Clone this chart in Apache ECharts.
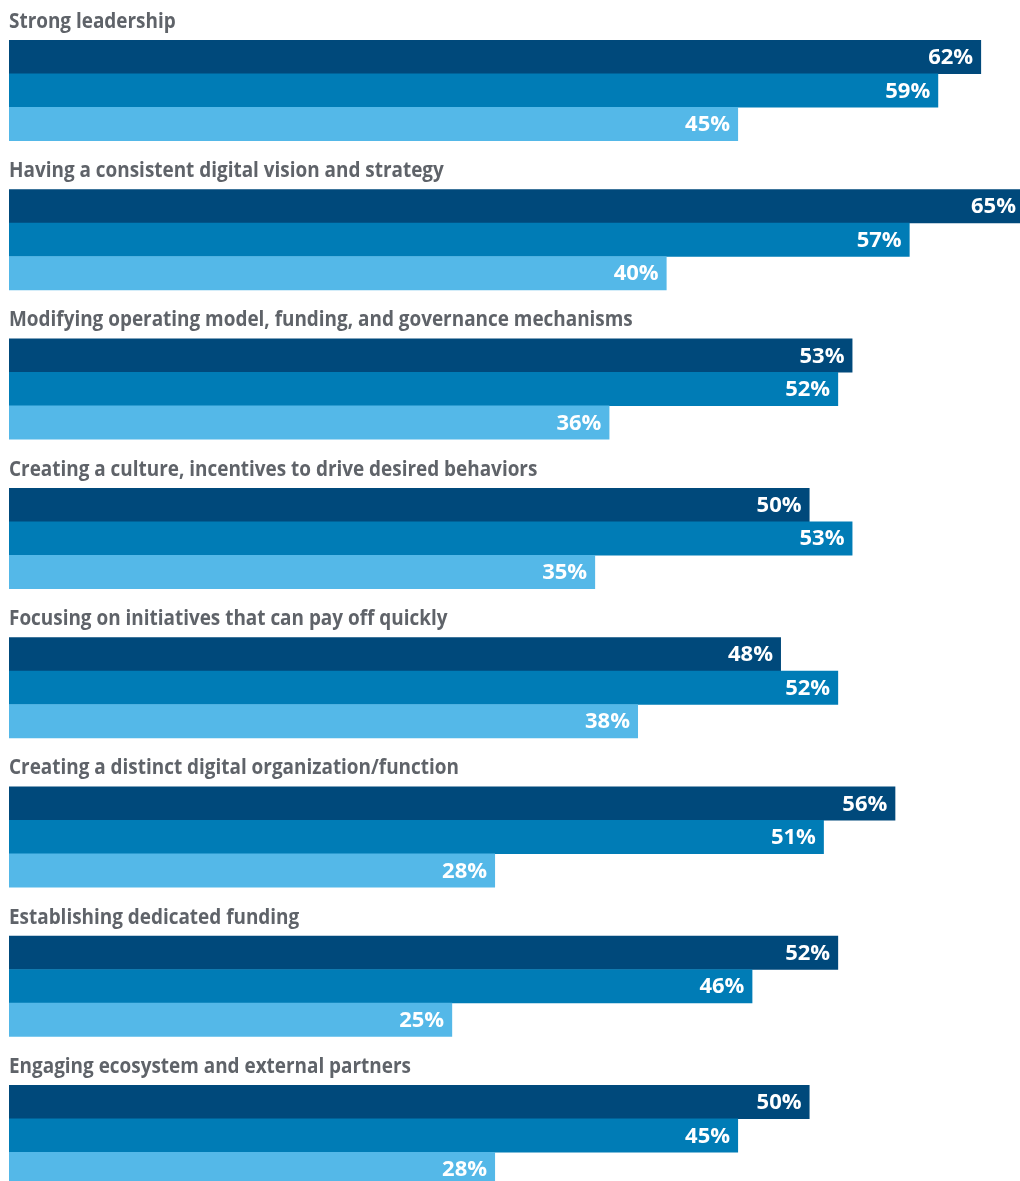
<!DOCTYPE html>
<html>
<head>
<meta charset="utf-8">
<script src="https://cdn.jsdelivr.net/npm/echarts@6/dist/echarts.min.js"></script>
<style>
  html, body { margin: 0; padding: 0; background: #ffffff; }
  #chart { width: 1020px; height: 1181px; }
</style>
</head>
<body>
<div id="chart"></div>
<script>
// Factors, top to bottom
const categories = [
  'Strong leadership',
  'Having a consistent digital vision and strategy',
  'Modifying operating model, funding, and governance mechanisms',
  'Creating a culture, incentives to drive desired behaviors',
  'Focusing on initiatives that can pay off quickly',
  'Creating a distinct digital organization/function',
  'Establishing dedicated funding',
  'Engaging ecosystem and external partners'
];

// Share of respondents (%) for the three groups, same order as categories
const groupA = [62, 65, 53, 50, 48, 56, 52, 50];
const groupB = [59, 57, 52, 53, 52, 51, 46, 45];
const groupC = [45, 40, 36, 35, 38, 28, 25, 28];

const colors = ['#00497b', '#007cb6', '#54b8e8'];
const AXIS_MIN = -6;
const BAR_H = 33.5;
const LABEL_FONT = '"Open Sans", "Noto Sans", sans-serif';

const chart = echarts.init(document.getElementById('chart'), null, { renderer: 'canvas' });

function toPairs(arr) {
  return arr.map((v, i) => [i, v]);
}

// Each bar runs from the left edge of the value axis to its value
function barRenderer(slot) {
  return function (params, api) {
    const cat = api.value(0);
    const v = api.value(1);
    const start = api.coord([AXIS_MIN, cat]);
    const end = api.coord([v, cat]);
    const top = start[1] - 1.5 * BAR_H + slot * BAR_H;
    return {
      type: 'group',
      children: [
        {
          type: 'rect',
          shape: { x: start[0], y: top, width: end[0] - start[0], height: BAR_H + 0.5 },
          style: { fill: colors[slot] }
        },
        {
          type: 'text',
          x: end[0] - 8,
          y: top + BAR_H / 2 + 1,
          style: {
            text: v + '%',
            fill: '#ffffff',
            font: 'bold 22px ' + LABEL_FONT,
            align: 'right',
            verticalAlign: 'middle'
          }
        }
      ]
    };
  };
}

// Category headings sit just above each group of three bars
function titleRenderer(params, api) {
  const cat = api.value(0);
  const p = api.coord([AXIS_MIN, cat]);
  const top = p[1] - 1.5 * BAR_H;
  return {
    type: 'text',
    x: p[0],
    y: top - 18.5,
    scaleX: 0.86,
    style: {
      text: categories[cat],
      fill: '#5f6369',
      font: 'bold 22px ' + LABEL_FONT,
      align: 'left',
      verticalAlign: 'middle'
    }
  };
}

const option = {
  backgroundColor: '#ffffff',
  animation: false,
  grid: {
    left: 9, top: 15.6, width: 1015, height: 1194.4,
    containLabel: false,
    outerBoundsMode: 'none'
  },
  xAxis: {
    type: 'value',
    min: AXIS_MIN,
    max: 65,
    show: false
  },
  yAxis: {
    type: 'category',
    data: categories,
    inverse: true,
    show: false
  },
  series: [
    { type: 'custom', name: 'Group A', data: toPairs(groupA), encode: { x: 1, y: 0 }, renderItem: barRenderer(0) },
    { type: 'custom', name: 'Group B', data: toPairs(groupB), encode: { x: 1, y: 0 }, renderItem: barRenderer(1) },
    { type: 'custom', name: 'Group C', data: toPairs(groupC), encode: { x: 1, y: 0 }, renderItem: barRenderer(2) },
    {
      type: 'custom',
      name: 'Headings',
      data: categories.map((c, i) => [i, AXIS_MIN]),
      encode: { x: 1, y: 0 },
      renderItem: titleRenderer
    }
  ]
};

chart.setOption(option);
</script>
</body>
</html>
